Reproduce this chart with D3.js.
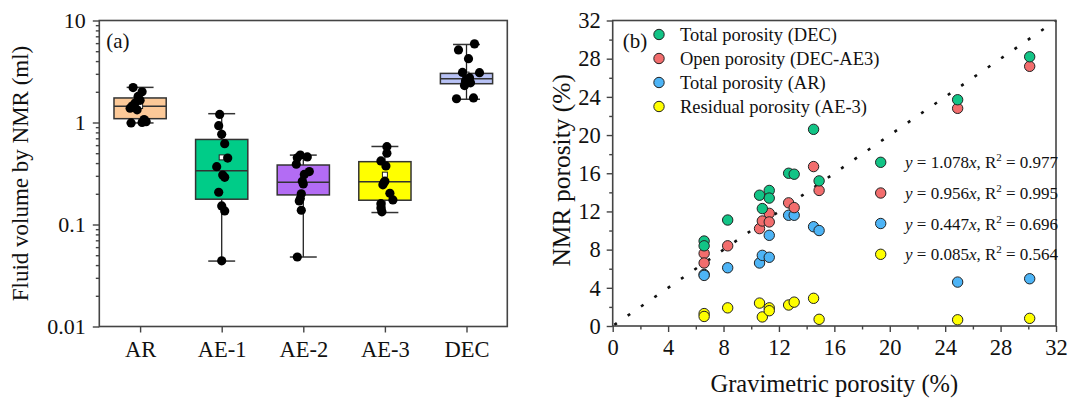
<!DOCTYPE html>
<html>
<head>
<meta charset="utf-8">
<script src="https://cdn.jsdelivr.net/npm/d3@7"></script>
<style>
  html, body { margin: 0; padding: 0; background: #fff; }
  svg { display: block; font-family: "Liberation Serif", "Times New Roman", serif; }
</style>
</head>
<body>
<script>
// ---------- Panel (a): fluid volume by NMR, box plots on a log axis ----------
const categories = ["AR", "AE-1", "AE-2", "AE-3", "DEC"];
const boxQ1      = [1.09, 0.177, 0.195, 0.173, 2.40];
const boxMedian  = [1.44, 0.337, 0.259, 0.263, 2.69];
const boxQ3      = [1.74, 0.682, 0.383, 0.413, 3.03];
const whiskerLow = [0.99, 0.0438, 0.048, 0.131, 1.69];
const whiskerHigh= [2.21, 1.22, 0.479, 0.582, 5.82];
const boxMean    = [1.45, 0.455, 0.28, 0.308, 2.95];
const boxColors  = ["#FCC998", "#00CC88", "#B36CF4", "#FFFF00", "#B8C2F5"];

const ptsAR  = [2.2, 2.0, 1.8, 1.65, 1.55, 1.45, 1.38, 1.33, 1.07, 1.02, 1.0, 0.99];
const ptsAE1 = [1.2, 0.93, 0.765, 0.62, 0.448, 0.369, 0.305, 0.29, 0.207, 0.152, 0.136, 0.044];
const ptsAE2 = [0.48, 0.46, 0.45, 0.39, 0.33, 0.31, 0.265, 0.25, 0.2, 0.18, 0.17, 0.138, 0.048];
const ptsAE3 = [0.58, 0.5, 0.42, 0.375, 0.265, 0.257, 0.245, 0.202, 0.174, 0.16, 0.145, 0.133];
const ptsDEC = [5.9, 5.15, 4.22, 3.1, 3.08, 2.75, 2.65, 2.55, 2.45, 2.3, 1.74, 1.71];
const yTicksA = [0.01, 0.1, 1, 10];
const yTickLabelsA = ["0.01", "0.1", "1", "10"];

// horizontal scatter offsets (px) for the raw points beside each box
const jitter = [
  [-7, 2, -2, 0, -5, -8, -10, -3, 4, 6, 2, -9],
  [-2, -3, 0, 3, 6, -5, 1, 3, -3, 0, 3, 0],
  [-3, 4, -6, -7, 6, 1, -1, 0, -2, -3, -4, -2, -6],
  [2, 2, -4, 1, 0, -1, -2, 5, 8, -4, -4, -3],
  [8, -8, 2, -4, 13, 3, 0, -1, 4, -2, 7, -10]
];

// ---------- Panel (b): NMR porosity vs gravimetric porosity ----------
const gravimetric   = [6.6, 6.6, 8.3, 10.6, 10.8, 11.3, 11.3, 12.7, 13.1, 14.5, 14.9, 24.9, 30.1];
const totalDEC      = [8.9, 8.4, 11.1, 13.7, 12.3, 14.2, 13.4, 16.0, 15.9, 20.6, 15.2, 23.7, 28.2];
const openDECAE3    = [7.6, 6.6, 8.4, 10.2, 11.0, 11.8, 10.9, 12.9, 12.4, 16.7, 14.2, 22.8, 27.2];
const totalAR       = [5.4, 5.3, 6.1, 6.6, 7.4, 9.5, 7.2, 11.6, 11.6, 10.4, 10.0, 4.6, 4.95];
const residualAE3   = [1.3, 1.0, 1.9, 2.4, 0.95, 1.9, 1.6, 2.2, 2.5, 2.9, 0.7, 0.65, 0.8];
const seriesNames   = ["Total porosity (DEC)", "Open porosity (DEC-AE3)", "Total porosity (AR)", "Residual porosity (AE-3)"];
const seriesColors  = ["#12C486", "#F26D6D", "#4DB4F6", "#FFFF00"];
const fitSlopes     = ["1.078", "0.956", "0.447", "0.085"];
const fitR2         = ["0.977", "0.995", "0.696", "0.564"];
const ticksB        = [0, 4, 8, 12, 16, 20, 24, 28, 32];

const W = 1070, H = 399;
const svg = d3.select("body").append("svg").attr("width", W).attr("height", H);
const axisColor = "#444";

function styleAxis(g, fontSize) {
  g.select(".domain").remove();
  g.selectAll(".tick line").attr("stroke", axisColor).attr("stroke-width", 1.4);
  g.selectAll(".tick text").attr("fill", "#111").attr("font-size", fontSize)
    .attr("font-family", "Liberation Serif, Times New Roman, serif");
}

// ===== Panel (a) =====
const A = { left: 99.3, right: 507.3, top: 20.5, bottom: 326.5 };
const xA = d3.scalePoint().domain(categories).range([A.left, A.right]).padding(0.5);
const yA = d3.scaleLog().domain([0.01, 10]).range([A.bottom, A.top]);
const bandA = xA.step();
const boxW = bandA * 0.64, capW = bandA * 0.33;

const gA = svg.append("g");

// minor log ticks
const minorA = [];
[0.01, 0.1, 1].forEach(d => { for (let k = 2; k <= 9; k++) minorA.push(d * k); });
gA.append("g").attr("transform", `translate(${A.left},0)`)
  .call(d3.axisLeft(yA).tickValues(minorA).tickSize(3.5).tickFormat(""))
  .call(g => styleAxis(g, 22));
gA.append("g").attr("transform", `translate(${A.left},0)`)
  .call(d3.axisLeft(yA).tickValues(yTicksA).tickSize(6.5).tickPadding(7)
    .tickFormat((d, i) => yTickLabelsA[i]))
  .call(g => styleAxis(g, 22));
gA.append("g").attr("transform", `translate(0,${A.bottom})`)
  .call(d3.axisBottom(xA).tickSize(6).tickPadding(9))
  .call(g => styleAxis(g, 22.5));

const allPts = [ptsAR, ptsAE1, ptsAE2, ptsAE3, ptsDEC];
categories.forEach((c, i) => {
  const cx = xA(c);
  const g = gA.append("g");
  // whisker stem
  g.append("line").attr("x1", cx).attr("x2", cx)
    .attr("y1", yA(whiskerLow[i])).attr("y2", yA(whiskerHigh[i]))
    .attr("stroke", "#222").attr("stroke-width", 1.3);
  [whiskerLow[i], whiskerHigh[i]].forEach(v => {
    g.append("line").attr("x1", cx - capW / 2).attr("x2", cx + capW / 2)
      .attr("y1", yA(v)).attr("y2", yA(v))
      .attr("stroke", "#333").attr("stroke-width", 1.5);
  });
  // box
  g.append("rect").attr("x", cx - boxW / 2).attr("width", boxW)
    .attr("y", yA(boxQ3[i])).attr("height", yA(boxQ1[i]) - yA(boxQ3[i]))
    .attr("fill", boxColors[i]).attr("stroke", "#333").attr("stroke-width", 1.5);
  g.append("line").attr("x1", cx - boxW / 2).attr("x2", cx + boxW / 2)
    .attr("y1", yA(boxMedian[i])).attr("y2", yA(boxMedian[i]))
    .attr("stroke", "#333").attr("stroke-width", 1.5);
  // mean marker
  g.append("rect").attr("x", cx - 2.5).attr("y", yA(boxMean[i]) - 2.5)
    .attr("width", 5).attr("height", 5)
    .attr("fill", "#fff").attr("stroke", "#222").attr("stroke-width", 1);
  // raw points
  g.selectAll("circle.pt").data(allPts[i]).join("circle").attr("class", "pt")
    .attr("cx", (d, j) => cx + jitter[i][j])
    .attr("cy", d => yA(d)).attr("r", 4.6).attr("fill", "#000");
});

gA.append("rect").attr("x", A.left).attr("y", A.top)
  .attr("width", A.right - A.left).attr("height", A.bottom - A.top)
  .attr("fill", "none").attr("stroke", axisColor).attr("stroke-width", 1.6);

gA.append("text").attr("x", A.left + 7).attr("y", A.top + 27)
  .attr("font-size", 21).attr("fill", "#111").text("(a)");

gA.append("text")
  .attr("transform", `translate(28,${(A.top + A.bottom) / 2}) rotate(-90)`)
  .attr("text-anchor", "middle").attr("font-size", 23).attr("fill", "#111")
  .text("Fluid volume by NMR (ml)");

// ===== Panel (b) =====
const B = { left: 612.7, right: 1056, top: 20.5, bottom: 326 };
const xB = d3.scaleLinear().domain([0, 32]).range([B.left, B.right]);
const yB = d3.scaleLinear().domain([0, 32]).range([B.bottom, B.top]);
const gB = svg.append("g");

const minorB = d3.range(2, 32, 4);
gB.append("g").attr("transform", `translate(0,${B.bottom})`)
  .call(d3.axisBottom(xB).tickValues(minorB).tickSize(3.5).tickFormat(""))
  .call(g => styleAxis(g, 22));
gB.append("g").attr("transform", `translate(0,${B.bottom})`)
  .call(d3.axisBottom(xB).tickValues(ticksB).tickSize(6).tickPadding(7).tickFormat(d3.format("d")))
  .call(g => styleAxis(g, 22.5));
gB.append("g").attr("transform", `translate(${B.left},0)`)
  .call(d3.axisLeft(yB).tickValues(minorB).tickSize(3.5).tickFormat(""))
  .call(g => styleAxis(g, 22));
gB.append("g").attr("transform", `translate(${B.left},0)`)
  .call(d3.axisLeft(yB).tickValues(ticksB).tickSize(6).tickPadding(6).tickFormat(d3.format("d")))
  .call(g => styleAxis(g, 22.5));

// 1:1 reference line
gB.append("path")
  .datum([[0, 0], [32, 32]])
  .attr("d", d3.line().x(d => xB(d[0])).y(d => yB(d[1])))
  .attr("stroke", "#111").attr("stroke-width", 2.6)
  .attr("stroke-dasharray", "3 13.2").attr("stroke-dashoffset", -2).attr("fill", "none");

const series = [totalDEC, openDECAE3, totalAR, residualAE3];
// draw lower series first so the total-porosity points sit on top
[3, 2, 1, 0].forEach(s => {
  gB.append("g").selectAll("circle").data(series[s]).join("circle")
    .attr("cx", (d, j) => xB(gravimetric[j]))
    .attr("cy", d => yB(d))
    .attr("r", 5.2)
    .attr("fill", seriesColors[s]).attr("stroke", "#222").attr("stroke-width", 1);
});

gB.append("rect").attr("x", B.left).attr("y", B.top)
  .attr("width", B.right - B.left).attr("height", B.bottom - B.top)
  .attr("fill", "none").attr("stroke", axisColor).attr("stroke-width", 1.6);

gB.append("text").attr("x", B.left + 10).attr("y", B.top + 27)
  .attr("font-size", 21).attr("fill", "#111").text("(b)");

// series legend
const legRowY = [34.5, 58.5, 82.5, 106.5];
seriesNames.forEach((name, i) => {
  gB.append("circle").attr("cx", 659).attr("cy", legRowY[i]).attr("r", 5.2)
    .attr("fill", seriesColors[i]).attr("stroke", "#222").attr("stroke-width", 1);
  gB.append("text").attr("x", 680).attr("y", legRowY[i] + 6.5)
    .attr("font-size", 18.5).attr("fill", "#111").text(name);
});

// regression equations
const eqRowY = [162.3, 193, 223.5, 254.3];
fitSlopes.forEach((sl, i) => {
  gB.append("circle").attr("cx", 880.7).attr("cy", eqRowY[i]).attr("r", 5.2)
    .attr("fill", seriesColors[i]).attr("stroke", "#222").attr("stroke-width", 1);
  const t = gB.append("text").attr("x", 905).attr("y", eqRowY[i] + 6)
    .attr("font-size", 17).attr("fill", "#111");
  t.append("tspan").attr("font-style", "italic").text("y");
  t.append("tspan").text(" = " + sl);
  t.append("tspan").attr("font-style", "italic").text("x");
  t.append("tspan").text(", R");
  t.append("tspan").attr("font-size", 11).attr("dy", -7).text("2");
  t.append("tspan").attr("dy", 7).text(" = " + fitR2[i]);
});

gB.append("text")
  .attr("x", (B.left + B.right) / 2).attr("y", 392)
  .attr("text-anchor", "middle").attr("font-size", 24.5).attr("fill", "#111")
  .text("Gravimetric porosity (%)");
gB.append("text")
  .attr("transform", `translate(570,${(B.top + B.bottom) / 2 - 3}) rotate(-90)`)
  .attr("text-anchor", "middle").attr("font-size", 25.5).attr("fill", "#111")
  .text("NMR porosity (%)");
</script>
</body>
</html>
